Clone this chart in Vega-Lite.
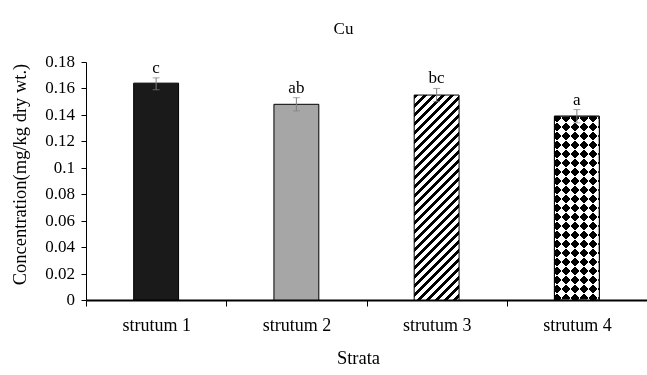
{
  "$schema": "https://vega.github.io/schema/vega-lite/v6.json",
  "width": 561,
  "height": 238,
  "autosize": {"type": "none"},
  "padding": {"left": 86, "top": 62, "right": 0, "bottom": 75},
  "background": "white",
  "title": {"text": "Cu", "font": "Liberation Serif", "fontSize": 17, "fontWeight": "normal", "color": "black", "anchor": "middle", "frame": "group", "dx": -23, "offset": 15},
  "config": {"view": {"stroke": null}, "font": "Liberation Serif"},
  "resolve": {"axis": {"y": "independent"}},
  "datasets": {
    "bars": [
      {"strata": "strutum 1", "value": 0.164, "lo": 0.159, "hi": 0.168, "letter": "c"},
      {"strata": "strutum 2", "value": 0.148, "lo": 0.143, "hi": 0.153, "letter": "ab"},
      {"strata": "strutum 3", "value": 0.155, "lo": 0.150, "hi": 0.160, "letter": "bc"},
      {"strata": "strutum 4", "value": 0.139, "lo": 0.134, "hi": 0.144, "letter": "a"}
    ],
    "yticks": [
      {"tick": 0, "label": "0"}, {"tick": 0.02, "label": "0.02"}, {"tick": 0.04, "label": "0.04"}, {"tick": 0.06, "label": "0.06"},
      {"tick": 0.08, "label": "0.08"}, {"tick": 0.1, "label": "0.1"}, {"tick": 0.12, "label": "0.12"}, {"tick": 0.14, "label": "0.14"},
      {"tick": 0.16, "label": "0.16"}, {"tick": 0.18, "label": "0.18"}
    ]
  },
  "data": {"name": "bars"},
  "encoding": {
    "x": {"field": "strata", "type": "nominal", "sort": null,
      "scale": {"paddingInner": 0, "paddingOuter": 0},
      "axis": {"title": "Strata", "labelAngle": 0, "labelFont": "Liberation Serif", "labelFontSize": 18, "labelColor": "black", "labelPadding": 10,
        "titleFont": "Liberation Serif", "titleFontSize": 18.5, "titleFontWeight": "normal", "titleColor": "black", "titlePadding": 14, "titleX": 272,
        "domainColor": "black", "domainWidth": 2, "tickColor": "black", "tickSize": 6, "tickBand": "extent"}}
  },
  "layer": [
    {
      "mark": {"type": "bar", "width": {"band": 0.32}, "stroke": "black", "strokeWidth": 1},
      "encoding": {
        "y": {"field": "value", "type": "quantitative",
          "scale": {"domain": [0, 0.18], "nice": false},
          "axis": {"title": "Concentration(mg/kg dry wt.)", "values": [0, 0.02, 0.04, 0.06, 0.08, 0.1, 0.12, 0.14, 0.16, 0.18], "labels": false, "grid": false,
            "titleFont": "Liberation Serif", "titleFontSize": 18.5, "titleFontWeight": "normal", "titleColor": "black", "titlePadding": 51, "titleY": 112,
            "domainColor": "black", "tickColor": "black", "tickSize": 5}},
        "fill": {"condition": [
          {"test": "datum.strata === 'strutum 1'", "value": "#1a1a1a"},
          {"test": "datum.strata === 'strutum 2'", "value": "#a6a6a6"},
          {"test": "datum.strata === 'strutum 3'", "value": {"gradient": "linear", "x1": 0, "y1": 0, "x2": 0.2576, "y2": 1.1731, "stops": [
            {"offset": 0, "color": "#000"}, {"offset": 0.0179, "color": "#000"}, {"offset": 0.0179, "color": "#fff"}, {"offset": 0.0357, "color": "#fff"},
            {"offset": 0.0357, "color": "#000"}, {"offset": 0.0536, "color": "#000"}, {"offset": 0.0536, "color": "#fff"}, {"offset": 0.0714, "color": "#fff"},
            {"offset": 0.0714, "color": "#000"}, {"offset": 0.0893, "color": "#000"}, {"offset": 0.0893, "color": "#fff"}, {"offset": 0.1071, "color": "#fff"},
            {"offset": 0.1071, "color": "#000"}, {"offset": 0.125, "color": "#000"}, {"offset": 0.125, "color": "#fff"}, {"offset": 0.1429, "color": "#fff"},
            {"offset": 0.1429, "color": "#000"}, {"offset": 0.1607, "color": "#000"}, {"offset": 0.1607, "color": "#fff"}, {"offset": 0.1786, "color": "#fff"},
            {"offset": 0.1786, "color": "#000"}, {"offset": 0.1964, "color": "#000"}, {"offset": 0.1964, "color": "#fff"}, {"offset": 0.2143, "color": "#fff"},
            {"offset": 0.2143, "color": "#000"}, {"offset": 0.2321, "color": "#000"}, {"offset": 0.2321, "color": "#fff"}, {"offset": 0.25, "color": "#fff"},
            {"offset": 0.25, "color": "#000"}, {"offset": 0.2679, "color": "#000"}, {"offset": 0.2679, "color": "#fff"}, {"offset": 0.2857, "color": "#fff"},
            {"offset": 0.2857, "color": "#000"}, {"offset": 0.3036, "color": "#000"}, {"offset": 0.3036, "color": "#fff"}, {"offset": 0.3214, "color": "#fff"},
            {"offset": 0.3214, "color": "#000"}, {"offset": 0.3393, "color": "#000"}, {"offset": 0.3393, "color": "#fff"}, {"offset": 0.3571, "color": "#fff"},
            {"offset": 0.3571, "color": "#000"}, {"offset": 0.375, "color": "#000"}, {"offset": 0.375, "color": "#fff"}, {"offset": 0.3929, "color": "#fff"},
            {"offset": 0.3929, "color": "#000"}, {"offset": 0.4107, "color": "#000"}, {"offset": 0.4107, "color": "#fff"}, {"offset": 0.4286, "color": "#fff"},
            {"offset": 0.4286, "color": "#000"}, {"offset": 0.4464, "color": "#000"}, {"offset": 0.4464, "color": "#fff"}, {"offset": 0.4643, "color": "#fff"},
            {"offset": 0.4643, "color": "#000"}, {"offset": 0.4821, "color": "#000"}, {"offset": 0.4821, "color": "#fff"}, {"offset": 0.5, "color": "#fff"},
            {"offset": 0.5, "color": "#000"}, {"offset": 0.5179, "color": "#000"}, {"offset": 0.5179, "color": "#fff"}, {"offset": 0.5357, "color": "#fff"},
            {"offset": 0.5357, "color": "#000"}, {"offset": 0.5536, "color": "#000"}, {"offset": 0.5536, "color": "#fff"}, {"offset": 0.5714, "color": "#fff"},
            {"offset": 0.5714, "color": "#000"}, {"offset": 0.5893, "color": "#000"}, {"offset": 0.5893, "color": "#fff"}, {"offset": 0.6071, "color": "#fff"},
            {"offset": 0.6071, "color": "#000"}, {"offset": 0.625, "color": "#000"}, {"offset": 0.625, "color": "#fff"}, {"offset": 0.6429, "color": "#fff"},
            {"offset": 0.6429, "color": "#000"}, {"offset": 0.6607, "color": "#000"}, {"offset": 0.6607, "color": "#fff"}, {"offset": 0.6786, "color": "#fff"},
            {"offset": 0.6786, "color": "#000"}, {"offset": 0.6964, "color": "#000"}, {"offset": 0.6964, "color": "#fff"}, {"offset": 0.7143, "color": "#fff"},
            {"offset": 0.7143, "color": "#000"}, {"offset": 0.7321, "color": "#000"}, {"offset": 0.7321, "color": "#fff"}, {"offset": 0.75, "color": "#fff"},
            {"offset": 0.75, "color": "#000"}, {"offset": 0.7679, "color": "#000"}, {"offset": 0.7679, "color": "#fff"}, {"offset": 0.7857, "color": "#fff"},
            {"offset": 0.7857, "color": "#000"}, {"offset": 0.8036, "color": "#000"}, {"offset": 0.8036, "color": "#fff"}, {"offset": 0.8214, "color": "#fff"},
            {"offset": 0.8214, "color": "#000"}, {"offset": 0.8393, "color": "#000"}, {"offset": 0.8393, "color": "#fff"}, {"offset": 0.8571, "color": "#fff"},
            {"offset": 0.8571, "color": "#000"}, {"offset": 0.875, "color": "#000"}, {"offset": 0.875, "color": "#fff"}, {"offset": 0.8929, "color": "#fff"},
            {"offset": 0.8929, "color": "#000"}, {"offset": 0.9107, "color": "#000"}, {"offset": 0.9107, "color": "#fff"}, {"offset": 0.9286, "color": "#fff"},
            {"offset": 0.9286, "color": "#000"}, {"offset": 0.9464, "color": "#000"}, {"offset": 0.9464, "color": "#fff"}, {"offset": 0.9643, "color": "#fff"},
            {"offset": 0.9643, "color": "#000"}, {"offset": 0.9821, "color": "#000"}, {"offset": 0.9821, "color": "#fff"}, {"offset": 1, "color": "#fff"}
          ]}}
        ], "value": {"gradient": "linear", "x1": 0, "y1": 0, "x2": 0.2941, "y2": 1.2012, "stops": [
            {"offset": 0, "color": "#000"}, {"offset": 0.0385, "color": "#000"}, {"offset": 0.0385, "color": "#fff"}, {"offset": 0.0769, "color": "#fff"},
            {"offset": 0.0769, "color": "#000"}, {"offset": 0.1154, "color": "#000"}, {"offset": 0.1154, "color": "#fff"}, {"offset": 0.1538, "color": "#fff"},
            {"offset": 0.1538, "color": "#000"}, {"offset": 0.1923, "color": "#000"}, {"offset": 0.1923, "color": "#fff"}, {"offset": 0.2308, "color": "#fff"},
            {"offset": 0.2308, "color": "#000"}, {"offset": 0.2692, "color": "#000"}, {"offset": 0.2692, "color": "#fff"}, {"offset": 0.3077, "color": "#fff"},
            {"offset": 0.3077, "color": "#000"}, {"offset": 0.3462, "color": "#000"}, {"offset": 0.3462, "color": "#fff"}, {"offset": 0.3846, "color": "#fff"},
            {"offset": 0.3846, "color": "#000"}, {"offset": 0.4231, "color": "#000"}, {"offset": 0.4231, "color": "#fff"}, {"offset": 0.4615, "color": "#fff"},
            {"offset": 0.4615, "color": "#000"}, {"offset": 0.5, "color": "#000"}, {"offset": 0.5, "color": "#fff"}, {"offset": 0.5385, "color": "#fff"},
            {"offset": 0.5385, "color": "#000"}, {"offset": 0.5769, "color": "#000"}, {"offset": 0.5769, "color": "#fff"}, {"offset": 0.6154, "color": "#fff"},
            {"offset": 0.6154, "color": "#000"}, {"offset": 0.6538, "color": "#000"}, {"offset": 0.6538, "color": "#fff"}, {"offset": 0.6923, "color": "#fff"},
            {"offset": 0.6923, "color": "#000"}, {"offset": 0.7308, "color": "#000"}, {"offset": 0.7308, "color": "#fff"}, {"offset": 0.7692, "color": "#fff"},
            {"offset": 0.7692, "color": "#000"}, {"offset": 0.8077, "color": "#000"}, {"offset": 0.8077, "color": "#fff"}, {"offset": 0.8462, "color": "#fff"},
            {"offset": 0.8462, "color": "#000"}, {"offset": 0.8846, "color": "#000"}, {"offset": 0.8846, "color": "#fff"}, {"offset": 0.9231, "color": "#fff"},
            {"offset": 0.9231, "color": "#000"}, {"offset": 0.9615, "color": "#000"}, {"offset": 0.9615, "color": "#fff"}, {"offset": 1, "color": "#fff"}
        ]}}
      }
    },
    {
      "transform": [{"filter": "datum.strata === 'strutum 4'"}],
      "mark": {"type": "bar", "width": {"band": 0.32}, "strokeWidth": 0, "blend": "difference",
        "fill": {"gradient": "linear", "x1": 0, "y1": 1, "x2": 0.2941, "y2": -0.2012, "stops": [
            {"offset": 0, "color": "#000"}, {"offset": 0.0385, "color": "#000"}, {"offset": 0.0385, "color": "#fff"}, {"offset": 0.0769, "color": "#fff"},
            {"offset": 0.0769, "color": "#000"}, {"offset": 0.1154, "color": "#000"}, {"offset": 0.1154, "color": "#fff"}, {"offset": 0.1538, "color": "#fff"},
            {"offset": 0.1538, "color": "#000"}, {"offset": 0.1923, "color": "#000"}, {"offset": 0.1923, "color": "#fff"}, {"offset": 0.2308, "color": "#fff"},
            {"offset": 0.2308, "color": "#000"}, {"offset": 0.2692, "color": "#000"}, {"offset": 0.2692, "color": "#fff"}, {"offset": 0.3077, "color": "#fff"},
            {"offset": 0.3077, "color": "#000"}, {"offset": 0.3462, "color": "#000"}, {"offset": 0.3462, "color": "#fff"}, {"offset": 0.3846, "color": "#fff"},
            {"offset": 0.3846, "color": "#000"}, {"offset": 0.4231, "color": "#000"}, {"offset": 0.4231, "color": "#fff"}, {"offset": 0.4615, "color": "#fff"},
            {"offset": 0.4615, "color": "#000"}, {"offset": 0.5, "color": "#000"}, {"offset": 0.5, "color": "#fff"}, {"offset": 0.5385, "color": "#fff"},
            {"offset": 0.5385, "color": "#000"}, {"offset": 0.5769, "color": "#000"}, {"offset": 0.5769, "color": "#fff"}, {"offset": 0.6154, "color": "#fff"},
            {"offset": 0.6154, "color": "#000"}, {"offset": 0.6538, "color": "#000"}, {"offset": 0.6538, "color": "#fff"}, {"offset": 0.6923, "color": "#fff"},
            {"offset": 0.6923, "color": "#000"}, {"offset": 0.7308, "color": "#000"}, {"offset": 0.7308, "color": "#fff"}, {"offset": 0.7692, "color": "#fff"},
            {"offset": 0.7692, "color": "#000"}, {"offset": 0.8077, "color": "#000"}, {"offset": 0.8077, "color": "#fff"}, {"offset": 0.8462, "color": "#fff"},
            {"offset": 0.8462, "color": "#000"}, {"offset": 0.8846, "color": "#000"}, {"offset": 0.8846, "color": "#fff"}, {"offset": 0.9231, "color": "#fff"},
            {"offset": 0.9231, "color": "#000"}, {"offset": 0.9615, "color": "#000"}, {"offset": 0.9615, "color": "#fff"}, {"offset": 1, "color": "#fff"}
        ]}},
      "encoding": {"y": {"field": "value", "type": "quantitative", "axis": null}}
    },
    {
      "transform": [{"filter": "datum.strata === 'strutum 4'"}],
      "mark": {"type": "bar", "width": {"band": 0.32}, "filled": false, "stroke": "black", "strokeWidth": 1},
      "encoding": {"y": {"field": "value", "type": "quantitative", "axis": null}}
    },
    {
      "mark": {"type": "rule", "color": "#7f7f7f", "strokeWidth": 1},
      "encoding": {"y": {"field": "lo", "type": "quantitative", "axis": null}, "y2": {"field": "hi"}}
    },
    {
      "mark": {"type": "tick", "color": "#7f7f7f", "size": 7, "thickness": 1},
      "encoding": {"y": {"field": "hi", "type": "quantitative", "axis": null}}
    },
    {
      "mark": {"type": "tick", "color": "#7f7f7f", "size": 7, "thickness": 1},
      "encoding": {"y": {"field": "lo", "type": "quantitative", "axis": null}}
    },
    {
      "mark": {"type": "text", "font": "Liberation Serif", "fontSize": 17, "color": "black", "baseline": "alphabetic", "dy": -5},
      "encoding": {"y": {"field": "hi", "type": "quantitative", "axis": null}, "text": {"field": "letter"}}
    },
    {
      "data": {"name": "yticks"},
      "mark": {"type": "text", "font": "Liberation Serif", "fontSize": 17, "color": "black", "align": "right", "baseline": "middle", "dx": -11},
      "encoding": {
        "x": {"datum": "strutum 1", "type": "nominal", "bandPosition": 0},
        "y": {"field": "tick", "type": "quantitative", "axis": null},
        "text": {"field": "label"}
      }
    }
  ]
}
